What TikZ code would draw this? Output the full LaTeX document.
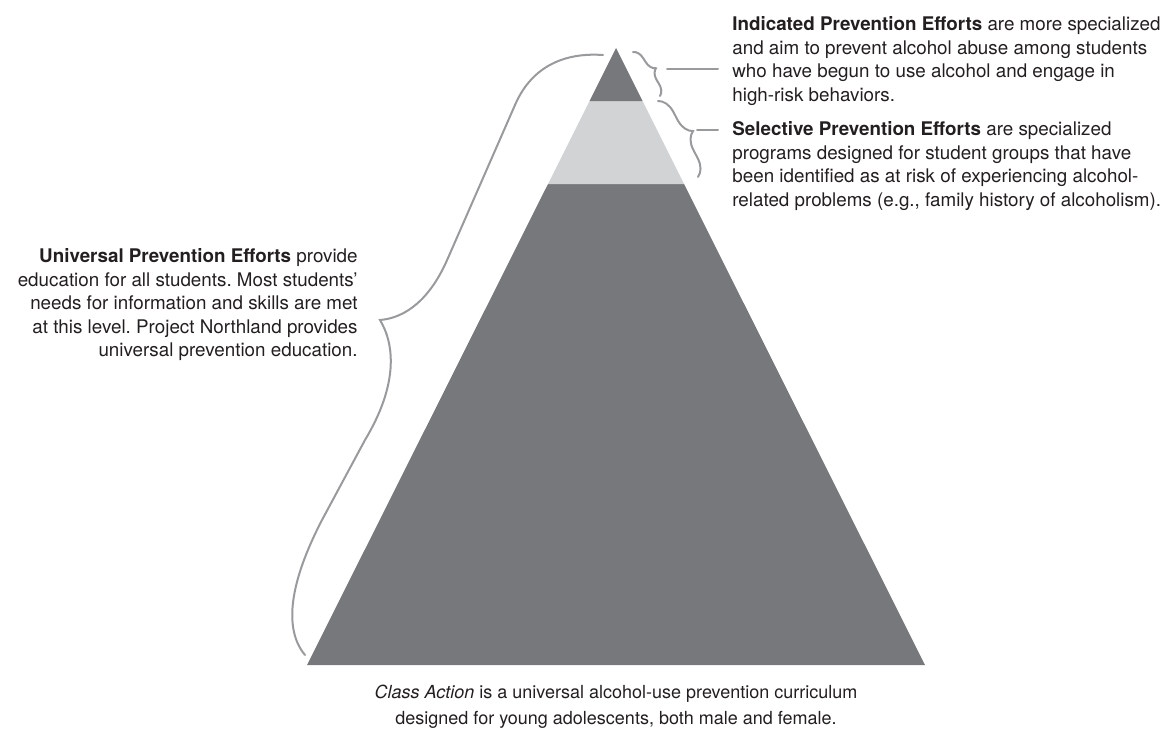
\documentclass[tikz,border=0pt]{standalone}
\usepackage{fontspec}
\setmainfont{TeX Gyre Heros}
\usetikzlibrary{decorations.pathreplacing}
\frenchspacing

\definecolor{pyrdark}{HTML}{77787B}
\definecolor{pyrlight}{HTML}{D1D3D4}
\definecolor{bracegray}{HTML}{999A9C}
\definecolor{txtgray}{HTML}{231F20}

\tikzset{
    bracket/.style={draw=bracegray, line width=1pt, line cap=round},
    note/.style={inner sep=0pt, text=txtgray, font=\fontsize{9.4}{11.8}\selectfont},
}

\begin{document}
\begin{tikzpicture}[x=0.5pt, y=-0.5pt]
    \useasboundingbox (0,0) rectangle (1164,740);
    % the three levels
    \fill[pyrdark] (307,665) -- (548,184) -- (684,184) -- (925,665) -- cycle;
    \fill[pyrlight] (548,184) -- (589.5,101) -- (642.5,101) -- (684,184) -- cycle;
    \fill[pyrdark] (589.5,101) -- (616,48) -- (642.5,101) -- cycle;
    % big brace on the left
    \draw[bracket] (603,55) .. controls (560,52) and (530,70) .. (515,105) -- (448,258)
        .. controls (430,300) and (405,318) .. (380,320)
        .. controls (395,345) and (398,385) .. (365,440) -- (322,520)
        .. controls (295,572) and (280,625) .. (305,655);
    % small braces on the right
    \draw[bracket, decorate, decoration={brace, amplitude=5.5pt}] (633,52) -- (660,96);
    \draw[bracket, decorate, decoration={brace, amplitude=8.5pt}] (658,101) -- (698,177);
    \coordinate (indA) at (667,69);
    \coordinate (indB) at (718,69);
    \coordinate (selA) at (697,130);
    \coordinate (selB) at (718,130);
    \draw[bracket] (indA) -- (indB);
    \draw[bracket] (selA) -- (selB);
    \node[note, anchor=north west, align=left] (indicated) at (732,16)
        {\textbf{Indicated Prevention Efforts} are more specialized\\
         and aim to prevent alcohol abuse among students\\
         who have begun to use alcohol and engage in\\
         high-risk behaviors.};
    \node[note, anchor=north west, align=left] (selective) at (732,121)
        {\textbf{Selective Prevention Efforts} are specialized\\
         programs designed for student groups that have\\
         been identified as at risk of experiencing alcohol-\\
         related problems (e.g., family history of alcoholism).};
    \node[note, anchor=north east, align=right] (universal) at (358,248)
        {\textbf{Universal Prevention Efforts} provide\\
         education for all students. Most students'\\
         needs for information and skills are met\\
         at this level. Project Northland provides\\
         universal prevention education.};
    \node[note, anchor=north, align=center, font=\fontsize{9}{13}\selectfont] (caption) at (616,685)
        {\textit{Class Action} is a universal alcohol-use prevention curriculum\\
         designed for young adolescents, both male and female.};
\end{tikzpicture}
\end{document}
